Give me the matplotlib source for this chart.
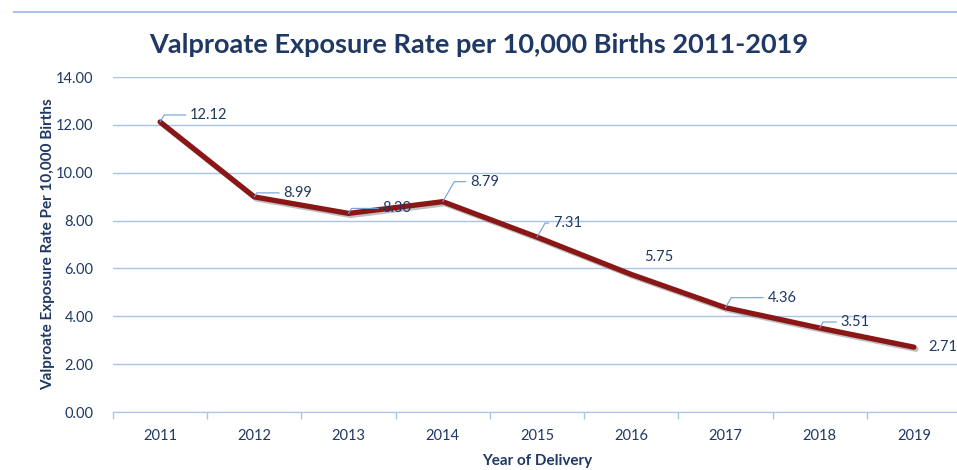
import matplotlib
matplotlib.use("Agg")
from matplotlib import pyplot as plt
import matplotlib.patheffects as pe
from matplotlib.lines import Line2D

years = ["2011", "2012", "2013", "2014", "2015", "2016", "2017", "2018", "2019"]
rates = [12.12, 8.99, 8.30, 8.79, 7.31, 5.75, 4.36, 3.51, 2.71]
yticks = [0, 2, 4, 6, 8, 10, 12, 14]

# label offsets in pixels (dx, dy) and whether a leader line is drawn
label_off = [(30, 7), (29, 4), (34, 5), (27, 20), (16, 14), (13, 17), (42, 10), (21, 6), (14, 0)]
leader = [True, True, True, True, True, False, True, True, False]

navy = "#1F3864"
grid = "#A9C4E8"
red = "#8B1616"

plt.rcParams['font.family'] = ['Lato', 'DejaVu Sans']

fig = plt.figure(figsize=(9.57, 4.70), dpi=100)
ax = fig.add_axes([113/957, 1 - 412/470, 848/957, 335/470])

x = list(range(len(years)))
ax.plot(x, rates, color=red, lw=3.8, solid_capstyle='round', zorder=3,
        path_effects=[pe.SimpleLineShadow(offset=(1.5, -1.5), shadow_color='gray', alpha=0.5), pe.Normal()])

for i, v in enumerate(rates):
    dx, dy = label_off[i]
    props = None
    if leader[i]:
        props = dict(arrowstyle='-', color='#6F9FDA', lw=0.8, shrinkA=1, shrinkB=0,
                     relpos=(0, 0.5), connectionstyle='angle,angleA=0,angleB=60,rad=0')
    ax.annotate(f"{v:.2f}", (i, v), xytext=(dx, dy), textcoords='offset pixels',
                ha='left', va='center', fontsize=10.5, color=navy, arrowprops=props, zorder=4)

ax.set_xlim(-0.5, len(years) - 0.5)
ax.set_ylim(0, 14)
ax.set_yticks(yticks)
ax.set_yticklabels([f"{t:.2f}" for t in yticks], color=navy, fontsize=10.5)
ax.set_xticks(x)
ax.set_xticklabels(years, color=navy, fontsize=10.5)
ax.set_xticks([i + 0.5 for i in range(-1, len(years))], minor=True)
ax.tick_params(axis='x', which='major', length=0, pad=12)
ax.tick_params(axis='x', which='minor', length=5, color=grid, width=1)
ax.tick_params(axis='y', length=0, pad=14)
ax.grid(axis='y', color=grid, lw=1)
ax.set_axisbelow(True)
for s in ['top', 'right', 'left']:
    ax.spines[s].set_visible(False)
ax.spines['bottom'].set_color(grid)

ax.set_ylabel("Valproate Exposure Rate Per 10,000 Births", fontsize=11, fontweight='bold', color=navy, labelpad=1)
ax.set_xlabel("Year of Delivery", fontsize=11, fontweight='bold', color=navy, labelpad=8)

fig.text(0.5, 1 - 45/470, "Valproate Exposure Rate per 10,000 Births 2011-2019",
         ha='center', va='center', fontsize=19.5, fontweight='bold', color=navy)
fig.add_artist(Line2D([0.015, 1], [1 - 12/470, 1 - 12/470], color=grid, lw=1.5, transform=fig.transFigure))

fig.savefig("out.png", dpi=100)
